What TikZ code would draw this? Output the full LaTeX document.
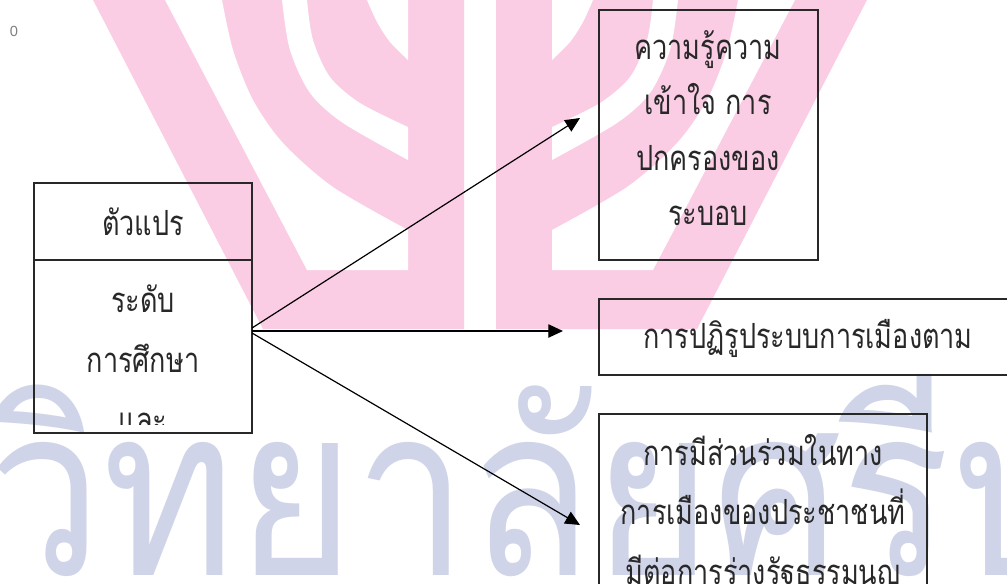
\documentclass[tikz,border=0pt]{standalone}
\usepackage{fontspec}
\setmainfont{Liberation Sans}
\newfontfamily\thaifont[Script=Thai,FakeStretch=0.78]{Loma}
\newfontfamily\wmfont[Script=Thai,FakeStretch=0.855]{Loma}
\usetikzlibrary{arrows.meta}
\definecolor{emblem}{RGB}{250,205,229}
\definecolor{wmark}{RGB}{208,212,232}
\definecolor{ink}{RGB}{40,40,40}
\tikzset{
  frame/.style={draw=ink, line width=1.1pt, inner sep=0pt},
  label/.style={text=ink, align=center, inner sep=0pt},
  link/.style={draw=black, line width=0.9pt, -{Triangle[length=11pt,width=10pt]}},
}
\begin{document}
\begin{tikzpicture}[x=0.75pt,y=-0.75pt]
\useasboundingbox (0,0) rectangle (1007,583);
\fill[white] (0,0) rectangle (1007,583);
\begin{scope}
\clip (0,0) rectangle (1007,583);
% emblem (watermark)
\foreach \s/\t in {1/0,-1/960}{
  \begin{scope}[shift={(\t,0)},xscale=\s]
    \fill[emblem] (82.7,-20) -- (263,329) -- (464,329) -- (464,-20) -- cycle;
    \fill[white] (154.5,-20) -- (307,270) -- (408,270) -- (408,230)
      -- plot[smooth] coordinates {(408,230) (333,187) (283,143) (253,100) (233,50) (222,0)}
      -- (221,-20) -- cycle;
    \fill[white] plot[smooth] coordinates {(282,-20) (282,0) (290,50) (310,93) (343,123) (408,160)}
      -- plot[smooth] coordinates {(408,127) (360,103) (330,77) (313,40) (307,0) (307,-20)} -- cycle;
    \fill[white] (367,-20) -- plot[smooth] coordinates {(367,0) (377,22) (390,42) (408,60)} -- (408,-20) -- cycle;
  \end{scope}
}
\node[font=\wmfont\fontsize{178}{178}\selectfont, text=wmark, anchor=base west, inner sep=0pt] (wm) at (-12,575) {วิทยาลัยศรีปทุม};
\end{scope}

\node[font=\fontsize{11}{11}\selectfont, text=gray, inner sep=0pt] (zero) at (14,31) {0};

% boxes
\node[frame, minimum width=218*0.75pt, minimum height=77*0.75pt] (hdr) at (143,221.5) {};
\node[frame, minimum width=218*0.75pt, minimum height=173*0.75pt] (body) at (143,346.5) {};
\node[frame, minimum width=219*0.75pt, minimum height=250*0.75pt] (know) at (708.5,135) {};
\node[frame, minimum width=416*0.75pt, minimum height=76*0.75pt] (reform) at (807,337) {};
\node[frame, minimum width=328*0.75pt, minimum height=236*0.75pt] (part) at (763,532) {};

% texts
\node[label, font=\thaifont\fontsize{26}{45}\selectfont] (hdrt) at (hdr.center) {ตัวแปร};
\begin{scope}
  \clip (34,260) rectangle (252,424);
  \node[label, font=\thaifont\fontsize{26}{45}\selectfont] (bodyt) at (143,358.5) {ระดับ\\การศึกษา\\และ};
\end{scope}
\node[label, font=\thaifont\fontsize{26}{41.6}\selectfont] (knowt) at (708,128) {ความรู้ความ\\เข้าใจ การ\\ปกครองของ\\ระบอบ};
\node[label, font=\thaifont\fontsize{26}{45}\selectfont] (reformt) at (808,338) {การปฏิรูประบบการเมืองตาม};
\node[label, font=\thaifont\fontsize{26}{44.6}\selectfont] (partt) at (763,513.5) {การมีส่วนร่วมในทาง\\การเมืองของประชาชนที่\\มีต่อการร่างรัฐธรรมนูญ};

% connectors
\coordinate (s1) at (252,328);
\coordinate (s2) at (252,331);
\coordinate (s3) at (252,333);
\coordinate (t1) at (580,118);
\coordinate (t2) at (563,331);
\coordinate (t3) at (580,525);
\draw[link] (s1) -- (t1);
\draw[link] (s2) -- (t2);
\draw[link] (s3) -- (t3);
\end{tikzpicture}
\end{document}
